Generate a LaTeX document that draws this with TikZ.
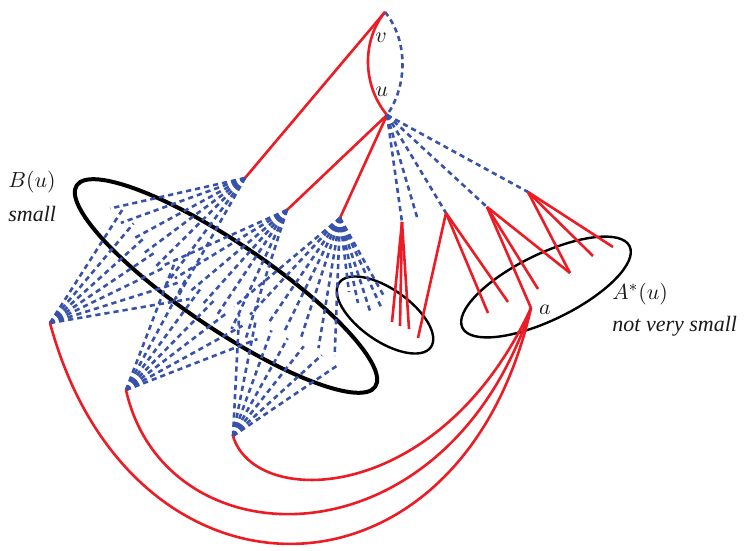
\documentclass[tikz,border=0pt]{standalone}
\usepackage{amsmath}
\usepackage{fontspec}
\setmainfont{Liberation Serif}
\usepackage{xcolor}
\usepackage{tikz}
\usetikzlibrary{calc,positioning,shapes.geometric}

\definecolor{treered}{RGB}{237,28,36}
\definecolor{pathblue}{RGB}{55,82,168}

\begin{document}
\begin{tikzpicture}[
  x=0.5pt, y=0.5pt,
  tree/.style={draw=treered, line width=1.3pt},
  link/.style={draw=pathblue, line width=1.3pt, dash pattern=on 2.6pt off 2pt},
  set/.style={ellipse, draw, inner sep=0pt},
  lbl/.style={font=\fontsize{11}{13}\selectfont\itshape, text=black!90, inner sep=0pt, align=left}
]
\useasboundingbox (0,0) rectangle (746,-551);

% vertices of the tree
\coordinate (v) at (385,-12);
\coordinate (u) at (387,-115);
\coordinate (l1) at (245,-178);
\coordinate (l2) at (287,-210);
\coordinate (l3) at (340,-218);
\coordinate (p) at (50,-323);
\coordinate (q) at (126,-390);
\coordinate (r) at (233,-436);
\coordinate (a) at (531,-308);

% children of u
\coordinate (f1) at (402,-222);
\coordinate (g) at (417,-217);
\coordinate (f2) at (446,-213);
\coordinate (f3) at (487,-207);
\coordinate (f4) at (528,-192);

% leaves
\coordinate (k1) at (392,-322);
\coordinate (k2) at (400,-326);
\coordinate (k3) at (409,-329);
\coordinate (k4) at (418,-338);
\coordinate (k5) at (488,-313);
\coordinate (k6) at (508,-302);
\coordinate (k7) at (538,-289);
\coordinate (w) at (570,-273);
\coordinate (k8) at (593,-256);
\coordinate (k9) at (613,-247);

\coordinate (m1) at (349,-292);
\coordinate (m2) at (358,-303);
\coordinate (m3) at (370,-311);
\coordinate (m4) at (381,-307);
\coordinate (m5) at (385,-298);

% the sets
\node[set, line width=2pt, rotate=-34, minimum width=180pt, minimum height=43pt] (bset) at (226,-286) {};
\node[set, line width=1.2pt, rotate=-35, minimum width=56pt, minimum height=26pt] (cset) at (385,-315) {};
\node[set, line width=1.2pt, rotate=26, minimum width=93pt, minimum height=33pt] (aset) at (546,-287) {};

% v -- u
\draw[tree] (v) .. controls (362,-40) and (362,-85) .. (u);
\draw[link] (v) .. controls (408,-40) and (408,-85) .. (u);

\draw[tree] (v) -- (l1);
\draw[tree] (u) -- (l2);
\draw[tree] (u) -- (l3);

\foreach \t in {f1,g,f2,f3,f4}
  \draw[link] (u) -- (\t);

\foreach \s/\t in {f1/k1,f1/k2,f1/k3,f2/k4,f2/k5,f2/k6,f3/k7,f3/a,f3/w,f4/w,f4/k8,f4/k9}
  \draw[tree] (\s) -- (\t);

\foreach \e in {m1,m2,m3,m4,m5}
  \draw[link] (l3) -- (\e);

% paths between the upper and lower vertices
\foreach \t/\b/\s in {l1/p/0.52,l2/q/0.52,l3/r/0.46}{
  \foreach \dd in {-28,-19,-9,0,9,19,28}
    \draw[link] (\t) -- ($(\t)!0.52!(\b)!\dd pt!90:(\b)$);
  \foreach \dd in {-24,-15,-6,3,12,22,32}
    \draw[link] (\b) -- ($(\b)!\s!(\t)!\dd pt!-90:(\t)$);
}

% back edges to a
\draw[tree] (r) .. controls (255,-510) and (440,-505) .. (a);
\draw[tree] (q) .. controls (165,-565) and (445,-570) .. (a);
\draw[tree] (p) .. controls (130,-620) and (460,-620) .. (a);

% labels
\node[lbl] (vlbl) at (381,-38) {$v$};
\node[lbl] (ulbl) at (382,-92) {$u$};
\node[lbl] (albl) at (545,-310) {$a$};
\node[lbl, anchor=west] (blbl) at (8,-196) {$B(u)$\\[4pt]small};
\node[lbl, anchor=west] (astar) at (612,-310) {$A^*(u)$\\[3pt]not very small};
\end{tikzpicture}
\end{document}
